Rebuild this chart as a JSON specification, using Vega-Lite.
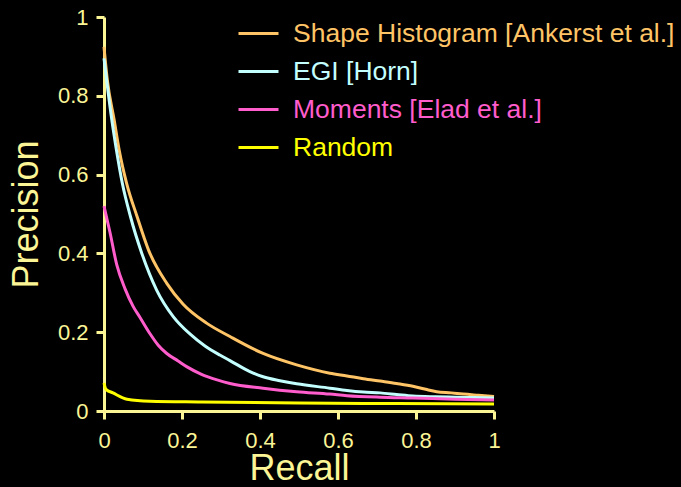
{
  "$schema": "https://vega.github.io/schema/vega-lite/v6.json",
  "width": 390,
  "height": 394,
  "autosize": {"type": "none"},
  "padding": {"left": 104, "top": 17, "right": 187, "bottom": 76},
  "background": "#000000",
  "config": {
    "view": {"stroke": null},
    "font": "Liberation Sans",
    "axis": {
      "domainColor": "#fbf596",
      "domainWidth": 3,
      "tickColor": "#fbf596",
      "tickWidth": 3,
      "tickSize": 8,
      "labelColor": "#fbf596",
      "labelFont": "Liberation Sans",
      "labelFontSize": 22,
      "labelPadding": 8,
      "labelFlush": false,
      "titleColor": "#fbf596",
      "titleFont": "Liberation Sans",
      "titleFontSize": 36,
      "titleFontWeight": "normal",
      "grid": false,
      "format": "~g"
    }
  },
  "data": {
    "values": [
      {"method": "Shape Histogram [Ankerst et al.]", "recall": 0, "precision": 0.924},
      {"method": "Shape Histogram [Ankerst et al.]", "recall": 0.0085, "precision": 0.84},
      {"method": "Shape Histogram [Ankerst et al.]", "recall": 0.026, "precision": 0.739},
      {"method": "Shape Histogram [Ankerst et al.]", "recall": 0.039, "precision": 0.662},
      {"method": "Shape Histogram [Ankerst et al.]", "recall": 0.058, "precision": 0.578},
      {"method": "Shape Histogram [Ankerst et al.]", "recall": 0.085, "precision": 0.493},
      {"method": "Shape Histogram [Ankerst et al.]", "recall": 0.114, "precision": 0.409},
      {"method": "Shape Histogram [Ankerst et al.]", "recall": 0.161, "precision": 0.324},
      {"method": "Shape Histogram [Ankerst et al.]", "recall": 0.203, "precision": 0.271},
      {"method": "Shape Histogram [Ankerst et al.]", "recall": 0.263, "precision": 0.223},
      {"method": "Shape Histogram [Ankerst et al.]", "recall": 0.323, "precision": 0.189},
      {"method": "Shape Histogram [Ankerst et al.]", "recall": 0.408, "precision": 0.146},
      {"method": "Shape Histogram [Ankerst et al.]", "recall": 0.494, "precision": 0.117},
      {"method": "Shape Histogram [Ankerst et al.]", "recall": 0.579, "precision": 0.096},
      {"method": "Shape Histogram [Ankerst et al.]", "recall": 0.623, "precision": 0.089},
      {"method": "Shape Histogram [Ankerst et al.]", "recall": 0.665, "precision": 0.082},
      {"method": "Shape Histogram [Ankerst et al.]", "recall": 0.708, "precision": 0.076},
      {"method": "Shape Histogram [Ankerst et al.]", "recall": 0.75, "precision": 0.07},
      {"method": "Shape Histogram [Ankerst et al.]", "recall": 0.792, "precision": 0.063},
      {"method": "Shape Histogram [Ankerst et al.]", "recall": 0.825, "precision": 0.055},
      {"method": "Shape Histogram [Ankerst et al.]", "recall": 0.853, "precision": 0.049},
      {"method": "Shape Histogram [Ankerst et al.]", "recall": 0.89, "precision": 0.046},
      {"method": "Shape Histogram [Ankerst et al.]", "recall": 0.921, "precision": 0.043},
      {"method": "Shape Histogram [Ankerst et al.]", "recall": 0.96, "precision": 0.04},
      {"method": "Shape Histogram [Ankerst et al.]", "recall": 1.0, "precision": 0.037},
      {"method": "EGI [Horn]", "recall": 0, "precision": 0.895},
      {"method": "EGI [Horn]", "recall": 0.008, "precision": 0.83},
      {"method": "EGI [Horn]", "recall": 0.02, "precision": 0.739},
      {"method": "EGI [Horn]", "recall": 0.032, "precision": 0.662},
      {"method": "EGI [Horn]", "recall": 0.047, "precision": 0.578},
      {"method": "EGI [Horn]", "recall": 0.068, "precision": 0.493},
      {"method": "EGI [Horn]", "recall": 0.097, "precision": 0.4},
      {"method": "EGI [Horn]", "recall": 0.135, "precision": 0.307},
      {"method": "EGI [Horn]", "recall": 0.178, "precision": 0.239},
      {"method": "EGI [Horn]", "recall": 0.221, "precision": 0.195},
      {"method": "EGI [Horn]", "recall": 0.259, "precision": 0.165},
      {"method": "EGI [Horn]", "recall": 0.297, "precision": 0.142},
      {"method": "EGI [Horn]", "recall": 0.323, "precision": 0.128},
      {"method": "EGI [Horn]", "recall": 0.374, "precision": 0.1},
      {"method": "EGI [Horn]", "recall": 0.408, "precision": 0.087},
      {"method": "EGI [Horn]", "recall": 0.451, "precision": 0.077},
      {"method": "EGI [Horn]", "recall": 0.494, "precision": 0.069},
      {"method": "EGI [Horn]", "recall": 0.579, "precision": 0.058},
      {"method": "EGI [Horn]", "recall": 0.623, "precision": 0.052},
      {"method": "EGI [Horn]", "recall": 0.665, "precision": 0.048},
      {"method": "EGI [Horn]", "recall": 0.708, "precision": 0.046},
      {"method": "EGI [Horn]", "recall": 0.75, "precision": 0.042},
      {"method": "EGI [Horn]", "recall": 0.792, "precision": 0.038},
      {"method": "EGI [Horn]", "recall": 0.85, "precision": 0.036},
      {"method": "EGI [Horn]", "recall": 0.9, "precision": 0.035},
      {"method": "EGI [Horn]", "recall": 0.95, "precision": 0.034},
      {"method": "EGI [Horn]", "recall": 1.0, "precision": 0.033},
      {"method": "Moments [Elad et al.]", "recall": 0, "precision": 0.52},
      {"method": "Moments [Elad et al.]", "recall": 0.015, "precision": 0.455},
      {"method": "Moments [Elad et al.]", "recall": 0.033, "precision": 0.37},
      {"method": "Moments [Elad et al.]", "recall": 0.054, "precision": 0.31},
      {"method": "Moments [Elad et al.]", "recall": 0.075, "precision": 0.265},
      {"method": "Moments [Elad et al.]", "recall": 0.092, "precision": 0.238},
      {"method": "Moments [Elad et al.]", "recall": 0.118, "precision": 0.196},
      {"method": "Moments [Elad et al.]", "recall": 0.139, "precision": 0.167},
      {"method": "Moments [Elad et al.]", "recall": 0.161, "precision": 0.146},
      {"method": "Moments [Elad et al.]", "recall": 0.19, "precision": 0.127},
      {"method": "Moments [Elad et al.]", "recall": 0.213, "precision": 0.112},
      {"method": "Moments [Elad et al.]", "recall": 0.25, "precision": 0.093},
      {"method": "Moments [Elad et al.]", "recall": 0.29, "precision": 0.079},
      {"method": "Moments [Elad et al.]", "recall": 0.323, "precision": 0.07},
      {"method": "Moments [Elad et al.]", "recall": 0.408, "precision": 0.058},
      {"method": "Moments [Elad et al.]", "recall": 0.494, "precision": 0.049},
      {"method": "Moments [Elad et al.]", "recall": 0.579, "precision": 0.043},
      {"method": "Moments [Elad et al.]", "recall": 0.623, "precision": 0.039},
      {"method": "Moments [Elad et al.]", "recall": 0.708, "precision": 0.035},
      {"method": "Moments [Elad et al.]", "recall": 0.792, "precision": 0.033},
      {"method": "Moments [Elad et al.]", "recall": 0.9, "precision": 0.03},
      {"method": "Moments [Elad et al.]", "recall": 1.0, "precision": 0.028},
      {"method": "Random", "recall": 0, "precision": 0.071},
      {"method": "Random", "recall": 0.005, "precision": 0.055},
      {"method": "Random", "recall": 0.023, "precision": 0.046},
      {"method": "Random", "recall": 0.059, "precision": 0.03},
      {"method": "Random", "recall": 0.118, "precision": 0.025},
      {"method": "Random", "recall": 0.25, "precision": 0.023},
      {"method": "Random", "recall": 0.5, "precision": 0.02},
      {"method": "Random", "recall": 0.75, "precision": 0.019},
      {"method": "Random", "recall": 1.0, "precision": 0.018}
    ]
  },
  "mark": {"type": "line", "strokeWidth": 3, "interpolate": "monotone", "clip": false},
  "encoding": {
    "x": {
      "field": "recall", "type": "quantitative",
      "scale": {"domain": [0, 1], "nice": false},
      "axis": {"values": [0, 0.2, 0.4, 0.6, 0.8, 1], "title": "Recall", "titleBaseline": "alphabetic", "titlePadding": 28, "labelPadding": 11}
    },
    "y": {
      "field": "precision", "type": "quantitative",
      "scale": {"domain": [0, 1], "nice": false},
      "axis": {"values": [0, 0.2, 0.4, 0.6, 0.8, 1], "title": "Precision", "titlePadding": 12}
    },
    "color": {
      "field": "method", "type": "nominal",
      "scale": {
        "domain": ["Shape Histogram [Ankerst et al.]", "EGI [Horn]", "Moments [Elad et al.]", "Random"],
        "range": ["#ffc466", "#c4ffff", "#ff5ccc", "#ffff00"]
      },
      "legend": {
        "title": null,
        "orient": "none",
        "legendX": 133,
        "legendY": -5,
        "symbolType": "stroke",
        "symbolSize": 1600,
        "symbolStrokeWidth": 3,
        "labelFont": "Liberation Sans",
        "labelFontSize": 26.5,
        "labelOffset": 13,
        "labelLimit": 500,
        "rowPadding": 3,
        "padding": 0,
        "encode": {
          "labels": {"update": {"fill": {"scale": "color", "field": "value"}}}
        }
      }
    }
  }
}
